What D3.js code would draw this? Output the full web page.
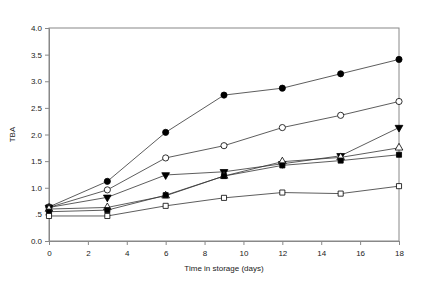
<!DOCTYPE html>
<html>
<head>
<meta charset="utf-8">
<script src="https://cdn.jsdelivr.net/npm/d3@7"></script>
<style>
  body { margin: 0; background: #fff; }
  text { font-family: "Liberation Sans", Arial, sans-serif; fill: #222; }
</style>
</head>
<body>
<svg id="chart"></svg>
<script>
// storage days
let days = [0, 3, 6, 9, 12, 15, 18];

// TBA values per treatment
let filledCircle   = [0.64, 1.12, 2.04, 2.74, 2.87, 3.14, 3.41];
let openCircle     = [0.63, 0.96, 1.56, 1.79, 2.13, 2.36, 2.62];
let filledTriangle = [0.63, 0.82, 1.24, 1.30, 1.45, 1.60, 2.13];
let openTriangle   = [0.60, 0.63, 0.85, 1.22, 1.49, 1.57, 1.75];
let filledSquare   = [0.55, 0.58, 0.86, 1.22, 1.42, 1.51, 1.62];
let openSquare     = [0.47, 0.47, 0.66, 0.81, 0.91, 0.89, 1.03];

let xTicks = [0, 2, 4, 6, 8, 10, 12, 14, 16, 18];
let yTicks = [0, 0.5, 1, 1.5, 2, 2.5, 3, 3.5, 4];
let yTickLabels = ['0.0', '.5', '1.0', '1.5', '2.0', '2.5', '3.0', '3.5', '4.0'];

let series = [
	{ name: 'filledCircle', values: filledCircle, shape: d3.symbolCircle, fill: '#000' },
	{ name: 'openCircle', values: openCircle, shape: d3.symbolCircle, fill: '#fff' },
	{ name: 'filledTriangle', values: filledTriangle, shape: d3.symbolTriangle, fill: '#000', flip: true },
	{ name: 'openTriangle', values: openTriangle, shape: d3.symbolTriangle, fill: '#fff' },
	{ name: 'filledSquare', values: filledSquare, shape: d3.symbolSquare, fill: '#000' },
	{ name: 'openSquare', values: openSquare, shape: d3.symbolSquare, fill: '#fff' },
];

function makeChart() {
	let w = 432;
	let h = 288;
	let marginT = 28;
	let marginL = 49;
	let marginR = 33;
	let marginB = 47;

	let chart = d3.select('#chart')
		.attr('width', w)
		.attr('height', h);

	let xScale = d3.scaleLinear()
		.domain([0, 18])
		.range([marginL, w - marginR]);

	let yScale = d3.scaleLinear()
		.domain([0, 4])
		.range([h - marginB, marginT]);

	// frame
	chart.append('rect')
		.attr('x', marginL)
		.attr('y', marginT)
		.attr('width', w - marginL - marginR)
		.attr('height', h - marginT - marginB)
		.attr('fill', 'none')
		.attr('stroke', '#888')
		.attr('stroke-width', 1);

	let xAxis = chart.append('g')
		.attr('transform', `translate(0,${h - marginB})`)
		.call(d3.axisBottom(xScale).tickValues(xTicks).tickSize(4).tickPadding(5));

	let yAxis = chart.append('g')
		.attr('transform', `translate(${marginL},0)`)
		.call(d3.axisLeft(yScale).tickValues(yTicks).tickSize(4).tickPadding(3)
			.tickFormat((d, i) => yTickLabels[i]));

	[xAxis, yAxis].forEach(a => {
		a.selectAll('path').attr('stroke', '#888').attr('stroke-width', 1);
		a.selectAll('line').attr('stroke', '#888');
		a.selectAll('text')
			.style('font-family', '"Liberation Sans", Arial, sans-serif')
			.style('font-size', '8px')
			.attr('fill', '#222');
	});

	chart.append('text')
		.attr('x', xScale(9))
		.attr('y', 271)
		.attr('text-anchor', 'middle')
		.style('font-size', '8px')
		.text('Time in storage (days)');

	chart.append('text')
		.attr('transform', `translate(15,${yScale(2)}) rotate(-90)`)
		.attr('text-anchor', 'middle')
		.style('font-size', '8px')
		.text('TBA');

	let line = d3.line()
		.x((d, i) => xScale(days[i]))
		.y(d => yScale(d));

	let groups = chart.selectAll('g.series')
		.data(series)
		.enter()
		.append('g')
		.attr('class', 'series');

	groups.append('path')
		.attr('d', d => line(d.values))
		.attr('fill', 'none')
		.attr('stroke', '#333')
		.attr('stroke-width', 0.8);

	groups.selectAll('path.marker')
		.data(d => d.values.map((v, i) => ({ v: v, i: i, s: d })))
		.enter()
		.append('path')
		.attr('class', 'marker')
		.attr('d', d => d3.symbol().type(d.s.shape).size(d.s.shape === d3.symbolCircle ? 30 : 26)())
		.attr('transform', d => `translate(${xScale(days[d.i])},${yScale(d.v)})` + (d.s.flip ? ' rotate(180)' : ''))
		.attr('fill', d => d.s.fill)
		.attr('stroke', '#000')
		.attr('stroke-width', 0.8);
}

window.onload = function () {
	makeChart();
}
</script>
</body>
</html>
